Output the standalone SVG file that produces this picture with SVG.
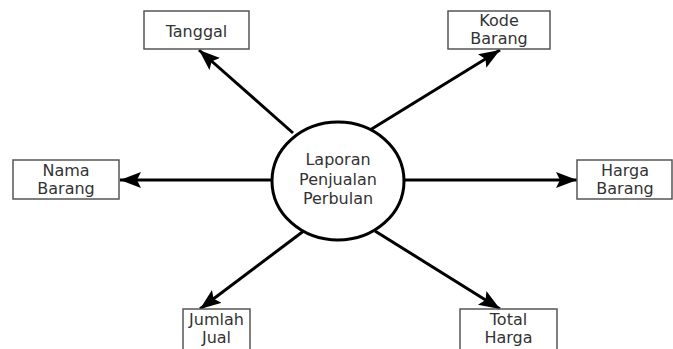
<svg xmlns="http://www.w3.org/2000/svg" width="673" height="349" viewBox="0 0 673 349">
<style>
.box{fill:#fff;stroke:#555;stroke-width:1.5}
.t{font-family:"DejaVu Sans",Verdana,sans-serif;font-size:16px;fill:#333;text-anchor:middle}
.c{fill:none;stroke:#000;stroke-width:3}
.e{fill:#fff;stroke:#000;stroke-width:3}
</style>
<defs>
<marker id="ah" markerUnits="userSpaceOnUse" markerWidth="24" markerHeight="18" refX="21" refY="8" orient="auto">
<path d="M0,0 L21,8 L0,16 L4,8 z" fill="#000"/>
</marker>
</defs>
<rect width="673" height="349" fill="#fff"/>
<g id="connectors">
<line class="c" x1="293" y1="133" x2="199" y2="50" marker-end="url(#ah)"/>
<line class="c" x1="370" y1="130" x2="500" y2="50" marker-end="url(#ah)"/>
<line class="c" x1="273" y1="180" x2="120" y2="180" marker-end="url(#ah)"/>
<line class="c" x1="405" y1="180" x2="577" y2="180" marker-end="url(#ah)"/>
<line class="c" x1="305" y1="230" x2="200" y2="309" marker-end="url(#ah)"/>
<line class="c" x1="375" y1="231" x2="500" y2="309" marker-end="url(#ah)"/>
</g>
<g id="center">
<ellipse class="e" cx="338" cy="181" rx="66" ry="59"/>
<text class="t" x="338" y="165">Laporan</text>
<text class="t" x="338" y="185">Penjualan</text>
<text class="t" x="338" y="204">Perbulan</text>
</g>
<g id="tanggal">
<rect class="box" x="144" y="11" width="105" height="38"/>
<text class="t" x="196.5" y="37">Tanggal</text>
</g>
<g id="kode-barang">
<rect class="box" x="448" y="11" width="102" height="38"/>
<text class="t" x="499" y="26">Kode</text>
<text class="t" x="499" y="44">Barang</text>
</g>
<g id="nama-barang">
<rect class="box" x="13" y="160" width="106" height="39"/>
<text class="t" x="66" y="176">Nama</text>
<text class="t" x="66" y="194">Barang</text>
</g>
<g id="harga-barang">
<rect class="box" x="577" y="160" width="95" height="39"/>
<text class="t" x="625" y="176">Harga</text>
<text class="t" x="625" y="194">Barang</text>
</g>
<g id="jumlah-jual">
<rect class="box" x="183" y="309" width="67" height="45"/>
<text class="t" x="216.5" y="325">Jumlah</text>
<text class="t" x="216.5" y="343">Jual</text>
</g>
<g id="total-harga">
<rect class="box" x="460" y="309" width="97" height="45"/>
<text class="t" x="508.5" y="325">Total</text>
<text class="t" x="508.5" y="343">Harga</text>
</g>
</svg>
